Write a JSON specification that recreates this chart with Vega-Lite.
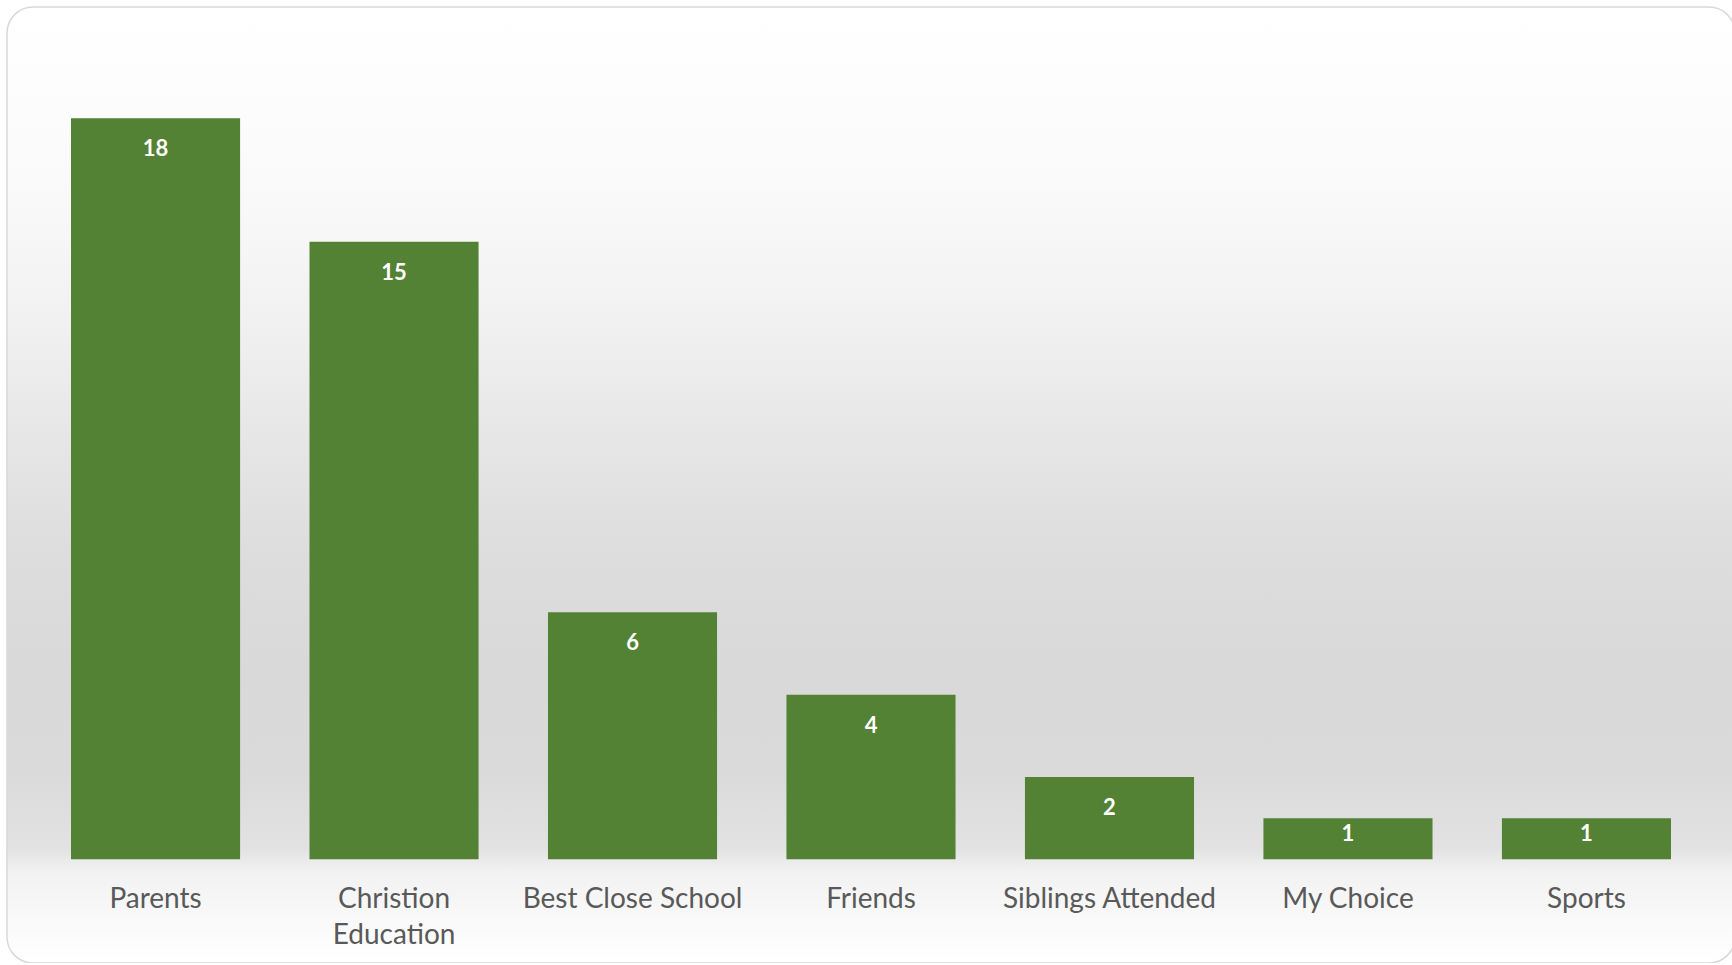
{
  "$schema": "https://vega.github.io/schema/vega-lite/v6.json",
  "autosize": {"type": "none"},
  "width": 1728,
  "height": 956,
  "padding": {"left": 7, "top": 7, "right": 0, "bottom": 0},
  "background": "#ffffff",
  "config": {
    "font": "Lato",
    "view": {
      "stroke": "#d9d9d9",
      "strokeWidth": 1.5,
      "cornerRadius": 26,
      "fill": {
        "gradient": "linear",
        "x1": 0, "y1": 0, "x2": 0, "y2": 1,
        "stops": [
          {"offset": 0, "color": "#ffffff"},
          {"offset": 0.12, "color": "#fcfcfc"},
          {"offset": 0.22, "color": "#f8f8f8"},
          {"offset": 0.34, "color": "#f0f0f0"},
          {"offset": 0.455, "color": "#e6e6e6"},
          {"offset": 0.57, "color": "#dddddd"},
          {"offset": 0.69, "color": "#d9d9d9"},
          {"offset": 0.8, "color": "#dadada"},
          {"offset": 0.88, "color": "#e2e2e2"},
          {"offset": 0.905, "color": "#f2f2f2"},
          {"offset": 0.975, "color": "#fcfcfc"},
          {"offset": 1, "color": "#ffffff"}
        ]
      }
    }
  },
  "data": {
    "values": [
      {"reason": "Parents", "count": 18},
      {"reason": "Christion Education", "count": 15},
      {"reason": "Best Close School", "count": 6},
      {"reason": "Friends", "count": 4},
      {"reason": "Siblings Attended", "count": 2},
      {"reason": "My Choice", "count": 1},
      {"reason": "Sports", "count": 1}
    ]
  },
  "encoding": {
    "x": {
      "field": "reason",
      "type": "nominal",
      "sort": null,
      "title": null,
      "scale": {"range": [29.3, 1698.7], "paddingInner": 0.291, "paddingOuter": 0.1455},
      "axis": {
        "offset": -103.7,
        "domain": false,
        "ticks": false,
        "grid": false,
        "labelAngle": 0,
        "labelFont": "Lato",
        "labelFontSize": 28,
        "labelColor": "#595959",
        "labelPadding": 26,
        "labelLineHeight": 36.5,
        "labelLimit": 400,
        "labelExpr": "datum.value == 'Christion Education' ? ['Christion', 'Education'] : datum.label"
      }
    },
    "y": {
      "field": "count",
      "type": "quantitative",
      "scale": {"domain": [0, 20], "range": [852.3, 29], "nice": false},
      "axis": null
    }
  },
  "layer": [
    {
      "mark": {"type": "bar", "color": "#548235"}
    },
    {
      "transform": [{"filter": "datum.count > 1"}],
      "mark": {"type": "text", "color": "#ffffff", "fontWeight": "bold", "fontSize": 22, "font": "Lato", "baseline": "middle", "dy": 31},
      "encoding": {"text": {"field": "count", "type": "quantitative"}}
    },
    {
      "transform": [{"filter": "datum.count <= 1"}],
      "mark": {"type": "text", "color": "#ffffff", "fontWeight": "bold", "fontSize": 22, "font": "Lato", "baseline": "middle", "dy": 16},
      "encoding": {"text": {"field": "count", "type": "quantitative"}}
    }
  ]
}
